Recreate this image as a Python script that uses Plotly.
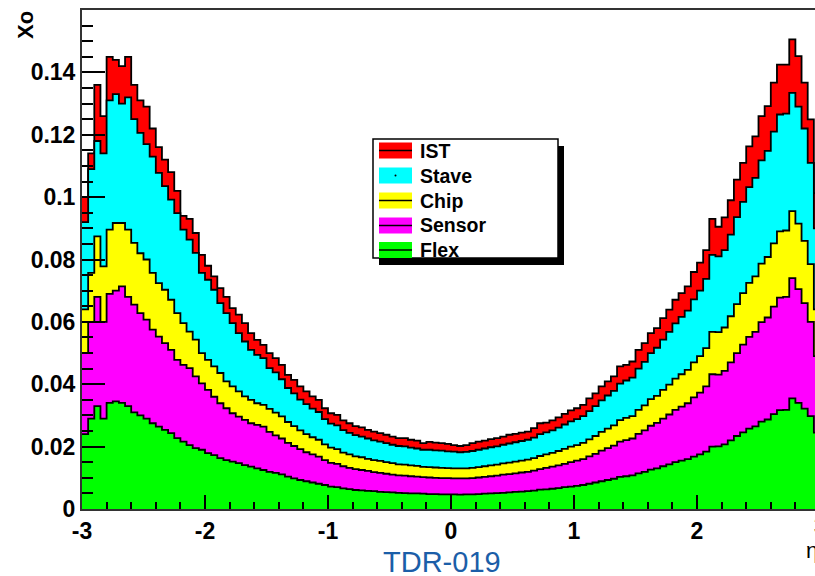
import numpy as np
import plotly.graph_objects as go

# ---------------- data (stack levels) ----------------
eta_min, eta_max, n_bins = -3.0, 3.0, 120

ist = [0.100, 0.114, 0.136, 0.126, 0.145, 0.144, 0.142, 0.145, 0.136, 0.131,
       0.129, 0.122, 0.116, 0.112, 0.108, 0.102, 0.094, 0.093, 0.0885, 0.0815,
       0.078, 0.0746, 0.0708, 0.068, 0.0644, 0.0623, 0.0596, 0.0564, 0.0542, 0.0526,
       0.0500, 0.0484, 0.0462, 0.0430, 0.0414, 0.0393, 0.0377, 0.0361, 0.0350, 0.0323,
       0.0307, 0.0302, 0.0284, 0.0275, 0.0266, 0.0262, 0.0254, 0.0248, 0.0243, 0.0238,
       0.0232, 0.0227, 0.0227, 0.0222, 0.0219, 0.0211, 0.0215, 0.0213, 0.0211, 0.0209,
       0.0205, 0.0202, 0.0205, 0.0211, 0.0216, 0.0219, 0.0224, 0.0227, 0.0232, 0.0238,
       0.0241, 0.0245, 0.0248, 0.0259, 0.0275, 0.0277, 0.0284, 0.0294, 0.0305, 0.0316,
       0.0323, 0.0334, 0.0355, 0.0371, 0.0393, 0.0409, 0.0425, 0.0457, 0.0462, 0.0473,
       0.0510, 0.0532, 0.0564, 0.0580, 0.0612, 0.0639, 0.0671, 0.0692, 0.0714, 0.0760,
       0.0790, 0.0830, 0.0930, 0.0905, 0.0935, 0.0990, 0.1056, 0.1110, 0.1163, 0.1195,
       0.1260, 0.1292, 0.1367, 0.1425, 0.1425, 0.1506, 0.1452, 0.1367, 0.1249, 0.1013]

stave = [0.092, 0.109, 0.118, 0.114, 0.131, 0.133, 0.130, 0.132, 0.125, 0.1206,
         0.117, 0.113, 0.1078, 0.1035, 0.0992, 0.0949, 0.0896, 0.0864, 0.0821, 0.0757,
         0.0735, 0.0703, 0.066, 0.0628, 0.0596, 0.0564, 0.0537, 0.051, 0.0494, 0.0484,
         0.0452, 0.0438, 0.0416, 0.0388, 0.0371, 0.0351, 0.0336, 0.0322, 0.0311, 0.0288,
         0.0274, 0.0268, 0.0253, 0.0244, 0.0237, 0.0232, 0.0226, 0.0220, 0.0216, 0.0211,
         0.0206, 0.0202, 0.0201, 0.0197, 0.0194, 0.0190, 0.0190, 0.0188, 0.0187, 0.0185,
         0.0184, 0.0182, 0.0183, 0.0186, 0.0190, 0.0194, 0.0198, 0.0201, 0.0206, 0.0210,
         0.0214, 0.0218, 0.0222, 0.0229, 0.0240, 0.0246, 0.0252, 0.0261, 0.0271, 0.0281,
         0.0288, 0.0298, 0.0314, 0.0330, 0.0348, 0.0364, 0.0379, 0.0402, 0.0412, 0.0421,
         0.0450, 0.0472, 0.0500, 0.0517, 0.0543, 0.0568, 0.0595, 0.0616, 0.0636, 0.0672,
         0.0700, 0.0738, 0.0815, 0.0810, 0.0830, 0.0880, 0.0936, 0.0985, 0.1032, 0.1062,
         0.1118, 0.1148, 0.1210, 0.1265, 0.1268, 0.1334, 0.1290, 0.1220, 0.1110, 0.0900]

chip = [0.064, 0.0757, 0.0874, 0.0778, 0.0896, 0.0917, 0.0917, 0.0896, 0.0853, 0.082,
        0.080, 0.0757, 0.0724, 0.0703, 0.0671, 0.0628, 0.0596, 0.0569, 0.0543, 0.050,
        0.0478, 0.0457, 0.0436, 0.0409, 0.0393, 0.0377, 0.0361, 0.035, 0.0339, 0.0334,
        0.0321, 0.0309, 0.0297, 0.0279, 0.0266, 0.0252, 0.0240, 0.0230, 0.0222, 0.0207,
        0.0197, 0.0192, 0.0181, 0.0175, 0.0169, 0.0166, 0.0161, 0.0157, 0.0154, 0.0150,
        0.0147, 0.0143, 0.0142, 0.0140, 0.0138, 0.0135, 0.0134, 0.0133, 0.0132, 0.0131,
        0.0130, 0.0130, 0.0130, 0.0132, 0.0134, 0.0137, 0.0140, 0.0142, 0.0146, 0.0149,
        0.0152, 0.0155, 0.0158, 0.0163, 0.0170, 0.0175, 0.0180, 0.0186, 0.0193, 0.0200,
        0.0205, 0.0212, 0.0223, 0.0234, 0.0247, 0.0258, 0.0268, 0.0285, 0.0292, 0.0298,
        0.0318, 0.0332, 0.0352, 0.0363, 0.0382, 0.0399, 0.0418, 0.0432, 0.0446, 0.0470,
        0.0490, 0.0516, 0.0568, 0.0567, 0.0582, 0.0618, 0.0657, 0.0692, 0.0725, 0.0746,
        0.0787, 0.0808, 0.0852, 0.0890, 0.0893, 0.0955, 0.0915, 0.0860, 0.0785, 0.0640]

sensor = [0.050, 0.060, 0.068, 0.060, 0.069, 0.070, 0.0714, 0.068, 0.0655, 0.0628,
          0.0607, 0.0575, 0.0553, 0.0532, 0.051, 0.0478, 0.0462, 0.0452, 0.0425, 0.0403,
          0.0382, 0.036, 0.0339, 0.0323, 0.0307, 0.0296, 0.0286, 0.0275, 0.027, 0.0264,
          0.0247, 0.0236, 0.0226, 0.0212, 0.0202, 0.0192, 0.0182, 0.0175, 0.0168, 0.0157,
          0.0148, 0.0145, 0.0137, 0.0132, 0.0128, 0.0125, 0.0122, 0.0118, 0.0116, 0.0113,
          0.0110, 0.0108, 0.0107, 0.0105, 0.0104, 0.0102, 0.0101, 0.0100, 0.0099, 0.0099,
          0.0098, 0.0098, 0.0098, 0.0099, 0.0101, 0.0103, 0.0105, 0.0107, 0.0110, 0.0112,
          0.0114, 0.0117, 0.0119, 0.0123, 0.0128, 0.0132, 0.0136, 0.0140, 0.0145, 0.0150,
          0.0155, 0.0160, 0.0169, 0.0177, 0.0187, 0.0195, 0.0203, 0.0216, 0.0221, 0.0226,
          0.0241, 0.0252, 0.0267, 0.0276, 0.0290, 0.0303, 0.0318, 0.0328, 0.0339, 0.0358,
          0.0373, 0.0393, 0.0432, 0.0431, 0.0443, 0.0470, 0.0500, 0.0527, 0.0552, 0.0568,
          0.0599, 0.0614, 0.0649, 0.0678, 0.0680, 0.0740, 0.0705, 0.0660, 0.0600, 0.0490]

flex = [0.024, 0.029, 0.033, 0.029, 0.034, 0.0345, 0.034, 0.033, 0.031, 0.030,
        0.029, 0.0275, 0.0264, 0.0254, 0.0243, 0.0227, 0.0216, 0.0205, 0.0195, 0.019,
        0.0179, 0.0173, 0.0163, 0.0157, 0.0152, 0.0147, 0.0141, 0.0136, 0.013, 0.0125,
        0.0119, 0.0116, 0.0111, 0.0104, 0.0098, 0.0093, 0.0089, 0.0085, 0.0081, 0.0077,
        0.0072, 0.0070, 0.0066, 0.0064, 0.0061, 0.0060, 0.0058, 0.0057, 0.0055, 0.0054,
        0.0053, 0.0052, 0.0051, 0.0050, 0.0050, 0.0049, 0.0048, 0.0048, 0.0047, 0.0047,
        0.0047, 0.0046, 0.0047, 0.0047, 0.0048, 0.0049, 0.0050, 0.0051, 0.0052, 0.0053,
        0.0055, 0.0056, 0.0057, 0.0059, 0.0062, 0.0063, 0.0065, 0.0067, 0.0070, 0.0072,
        0.0074, 0.0077, 0.0081, 0.0085, 0.0089, 0.0093, 0.0097, 0.0103, 0.0105, 0.0108,
        0.0114, 0.0119, 0.0126, 0.0130, 0.0137, 0.0143, 0.0150, 0.0155, 0.0160, 0.0168,
        0.0175, 0.0184, 0.0200, 0.0201, 0.0207, 0.0220, 0.0234, 0.0246, 0.0258, 0.0265,
        0.0280, 0.0287, 0.0304, 0.0317, 0.0318, 0.0355, 0.0340, 0.0322, 0.0298, 0.0245]

layer_names = ["IST", "Stave", "Chip", "Sensor", "Flex"]
layer_colors = ["#FF0000", "#00FFFF", "#FFFF00", "#FF00FF", "#00FF00"]
layer_values = [ist, stave, chip, sensor, flex]

x_tick_vals = [-3, -2, -1, 0, 1, 2]
x_tick_text = ["-3", "-2", "-1", "0", "1", "2"]
y_tick_vals = [0, 0.02, 0.04, 0.06, 0.08, 0.1, 0.12, 0.14]
y_tick_text = ["0", "0.02", "0.04", "0.06", "0.08", "0.1", "0.12", "0.14"]

# ---------------- geometry ----------------
W, H = 815, 576
L, T, B = 82, 10, 67
PW, PH = W - L, H - T - B
PX_PER_UNIT = 123.0
x_hi = -3 + PW / PX_PER_UNIT
FONT = "Liberation Sans, Arial, sans-serif"


def px(xp):
    return (xp - L) / PW


def py(yp):
    return 1 - (yp - T) / PH


edges = np.linspace(eta_min, eta_max, n_bins + 1)

fig = go.Figure()
for name, vals, col in zip(layer_names, layer_values, layer_colors):
    yv = list(vals) + [vals[-1]]
    fig.add_trace(go.Scatter(
        x=edges, y=yv, mode="lines", name=name,
        line=dict(shape="hv", color="black", width=1.8),
        fill="tozeroy", fillcolor=col, showlegend=False,
        hoverinfo="skip"))

tickfont = dict(family=FONT, size=23, color="black", weight="bold")

fig.update_xaxes(
    range=[-3, x_hi], tickmode="array", tickvals=x_tick_vals, ticktext=x_tick_text,
    ticks="inside", ticklen=14, tickwidth=1.5, tickcolor="black",
    minor=dict(tickmode="linear", tick0=-3, dtick=0.2, ticks="inside",
               ticklen=7, tickwidth=1.5, tickcolor="black"),
    showline=True, linecolor="#333333", linewidth=2, mirror=True,
    showgrid=False, zeroline=False, tickfont=tickfont)

fig.update_yaxes(
    range=[0, 0.16], tickmode="array", tickvals=y_tick_vals, ticktext=y_tick_text,
    ticks="inside", ticklen=23, tickwidth=1.5, tickcolor="black",
    minor=dict(tickmode="linear", tick0=0, dtick=0.005, ticks="inside",
               ticklen=11, tickwidth=1.5, tickcolor="black"),
    showline=True, linecolor="#333333", linewidth=2, mirror=False,
    showgrid=False, zeroline=False, tickfont=tickfont)

shapes = []
annotations = []

# legend box with shadow
bx0, by0, bx1, by1 = 373, 139, 558, 258
shapes.append(dict(type="rect", xref="paper", yref="paper", layer="above",
                   x0=px(bx0 + 6), x1=px(bx1 + 6), y0=py(by1 + 7), y1=py(by0 + 7),
                   fillcolor="black", line=dict(width=0)))
shapes.append(dict(type="rect", xref="paper", yref="paper", layer="above",
                   x0=px(bx0), x1=px(bx1), y0=py(by1), y1=py(by0),
                   fillcolor="white", line=dict(color="black", width=1.5)))
row_centers = [150.5, 175.5, 200.5, 225.5, 250.0]
for name, col, yc in zip(layer_names, layer_colors, row_centers):
    shapes.append(dict(type="rect", xref="paper", yref="paper", layer="above",
                       x0=px(379), x1=px(412), y0=py(yc + 8), y1=py(yc - 8),
                       fillcolor=col, line=dict(width=0)))
    if name == "Stave":
        shapes.append(dict(type="circle", xref="paper", yref="paper", layer="above",
                           x0=px(394.5), x1=px(396.5), y0=py(yc + 1), y1=py(yc - 1),
                           fillcolor="black", line=dict(width=0)))
    else:
        shapes.append(dict(type="line", xref="paper", yref="paper", layer="above",
                           x0=px(379), x1=px(412), y0=py(yc), y1=py(yc),
                           line=dict(color="black", width=1.5)))
    annotations.append(dict(xref="paper", yref="paper", x=px(418), y=py(yc),
                            xanchor="left", yanchor="middle", showarrow=False,
                            text=name, font=dict(family=FONT, size=19.5,
                                                 color="black", weight="bold")))

# axis titles and extra labels
annotations.append(dict(xref="paper", yref="paper", x=px(25), y=py(25),
                        xanchor="center", yanchor="middle", showarrow=False,
                        text="Xo", textangle=-90,
                        font=dict(family=FONT, size=22, color="black", weight="bold")))
annotations.append(dict(xref="paper", yref="paper", x=px(804), y=py(550),
                        xanchor="left", yanchor="middle", showarrow=False,
                        text="η", font=dict(family=FONT, size=22, color="black")))
annotations.append(dict(xref="paper", yref="paper", x=px(820), y=py(526),
                        xanchor="center", yanchor="middle", showarrow=False,
                        text="3", font=dict(family=FONT, size=23, color="black",
                                            weight="bold")))
annotations.append(dict(xref="paper", yref="paper", x=px(441.5), y=py(562),
                        xanchor="center", yanchor="middle", showarrow=False,
                        borderpad=0, text="TDR-019",
                        font=dict(family=FONT, size=29, color="#1B5EA8")))

fig.update_layout(
    width=W, height=H, margin=dict(l=L, r=0, t=T, b=B, pad=0),
    paper_bgcolor="white", plot_bgcolor="white",
    shapes=shapes, annotations=annotations, showlegend=False)

fig.write_html("out.html")
